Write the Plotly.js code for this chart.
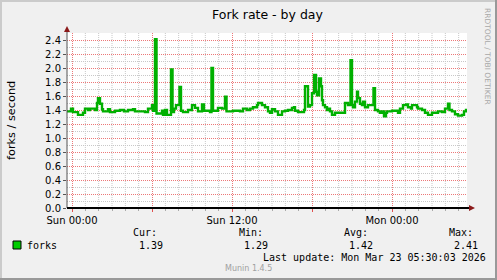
<!DOCTYPE html>
<html>
<head>
<meta charset="utf-8">
<script src="https://cdn.plot.ly/plotly-3.0.1.min.js"></script>
<style>
html,body{margin:0;padding:0;background:#f0f0f0;}
#chart{width:497px;height:280px;}
</style>
</head>
<body>
<div id="chart"></div>
<script>
// ---- data (hours after Sun 00:00, forks per second) ----
const hours = [-0.375,-0.075,0.075,0.45,0.825,0.975,1.2,1.35,1.725,1.875,1.95,2.1,2.25,2.325,2.7,2.85,3.225,3.6,3.9,4.2,4.575,4.725,5.475,5.7,6.0,6.075,6.225,6.34,6.75,6.825,6.975,7.125,7.425,7.54,7.65,7.8,8.06,8.175,8.325,8.7,9.0,9.225,9.45,9.75,9.9,10.35,10.46,10.575,10.95,11.25,11.475,11.59,12.075,12.6,12.825,13.125,13.35,13.575,13.875,13.95,14.25,14.475,14.7,14.85,15.0,15.225,15.45,15.75,15.975,16.2,16.5,16.65,16.725,16.95,17.4,17.475,17.7,17.85,18.0,18.15,18.3,18.375,18.525,18.675,18.75,18.825,18.975,19.125,19.2,19.35,19.5,19.725,20.475,20.7,20.89,21.0,21.075,21.225,21.375,21.45,21.6,21.75,21.825,21.975,22.2,22.61,22.725,22.95,23.1,23.25,23.4,23.55,23.625,24.0,24.45,24.6,24.825,25.05,25.2,25.425,25.5,25.875,25.95,26.25,26.475,26.7,27.0,27.45,27.75,27.975,28.2,28.31,28.5,28.725,28.95,29.25,29.4,29.55,29.625];
const forks = [1.38,1.42,1.37,1.33,1.36,1.42,1.40,1.42,1.40,1.50,1.57,1.49,1.41,1.38,1.41,1.37,1.39,1.40,1.38,1.40,1.41,1.38,1.37,1.42,1.47,1.39,2.41,1.35,1.39,1.33,1.40,1.33,1.98,1.37,1.42,1.47,1.73,1.39,1.37,1.40,1.47,1.43,1.38,1.48,1.39,1.37,2.00,1.39,1.43,1.42,1.59,1.38,1.39,1.38,1.42,1.40,1.42,1.44,1.47,1.50,1.47,1.44,1.38,1.36,1.41,1.38,1.33,1.38,1.39,1.40,1.43,1.44,1.39,1.37,1.40,1.74,1.45,1.47,1.64,1.90,1.66,1.61,1.85,1.74,1.54,1.47,1.44,1.40,1.42,1.38,1.33,1.36,1.50,1.47,2.11,1.47,1.44,1.52,1.66,1.57,1.49,1.47,1.52,1.44,1.47,1.71,1.40,1.38,1.36,1.38,1.31,1.36,1.38,1.39,1.36,1.42,1.47,1.48,1.44,1.42,1.47,1.44,1.42,1.40,1.36,1.33,1.36,1.38,1.37,1.42,1.49,1.40,1.38,1.34,1.32,1.33,1.38,1.40,1.39];
const xTickVals = [0, 6, 12, 18, 24];
const xTickText = ["Sun 00:00", "", "Sun 12:00", "", "Mon 00:00"];
const yTickVals = [0,0.2,0.4,0.6,0.8,1.0,1.2,1.4,1.6,1.8,2.0,2.2,2.4];
const yTickText = ["0.0","0.2","0.4","0.6","0.8","1.0","1.2","1.4","1.6","1.8","2.0","2.2","2.4"];
const seriesName = "forks";
const statLabels = ["Cur:", "Min:", "Avg:", "Max:"];
const statValues = ["1.39", "1.29", "1.42", "2.41"];
const lastUpdate = "Last update: Mon Mar 23 05:30:03 2026";

// ---- layout helpers (pixel -> paper) ----
const W = 497, H = 280, L = 67, T = 33, PW = 400, PH = 175;
const px = x => (x - L) / PW;
const py = y => (T + PH - y) / PH;

const green = "#00cc00";
const lineGreen = "#00b000";
const sans = "DejaVu Sans";
const mono = "DejaVu Sans Mono";

function rect(x0, y0, x1, y1, color, line) {
  return {type: "rect", xref: "paper", yref: "paper", x0: px(x0), x1: px(x1), y0: py(y1), y1: py(y0),
          fillcolor: color, line: line || {width: 0}, layer: "above"};
}
function seg(x0, y0, x1, y1, color, w) {
  return {type: "line", xref: "paper", yref: "paper", x0: px(x0), x1: px(x1), y0: py(y0), y1: py(y1),
          line: {color: color, width: w}, layer: "above"};
}
function tri(pts, color) {
  const p = pts.map((q, i) => (i ? "L" : "M") + px(q[0]) + "," + py(q[1])).join(" ") + " Z";
  return {type: "path", xref: "paper", yref: "paper", path: p, fillcolor: color, line: {width: 0}, layer: "above"};
}
function txt(x, y, text, opts) {
  return Object.assign({xref: "paper", yref: "paper", x: px(x), y: py(y), text: text, showarrow: false,
    xanchor: "left", yanchor: "middle", borderpad: 0,
    font: {family: mono, size: 10, color: "#000"}}, opts || {});
}

const shapes = [
  // frame
  rect(0, 0, 497, 2, "#cbcbcb"),
  rect(0, 0, 2, 280, "#cbcbcb"),
  rect(495, 0, 497, 280, "#999999"),
  rect(0, 278, 497, 280, "#999999"),
  // axes
  seg(67, 208, 67, 30, "#555555", 1),
  seg(67, 208, 470, 208, "#000000", 2),
  tri([[64, 32], [70, 32], [67, 26]], "#8b1a1a"),
  tri([[469, 205], [469, 211], [475, 208]], "#8b1a1a"),
  // legend swatch
  rect(13, 241, 21, 249, green, {color: "#000", width: 1})
];

const annotations = [
  txt(267, 14, "Fork rate - by day", {xanchor: "center", font: {family: sans, size: 12.5, color: "#000"}}),
  txt(11, 120, "forks / second", {xanchor: "center", textangle: -90, font: {family: sans, size: 11.3, color: "#000"}}),
  txt(488, 56, "RRDTOOL / TOBI OETIKER", {xanchor: "center", textangle: 90, font: {family: sans, size: 7.5, color: "#a8a8a8"}}),
  txt(26, 245, seriesName),
  txt(132, 232, statLabels[0]), txt(238, 232, statLabels[1]), txt(343, 232, statLabels[2]), txt(448, 232, statLabels[3]),
  txt(138, 245, statValues[0]), txt(243, 245, statValues[1]), txt(348, 245, statValues[2]), txt(453, 245, statValues[3]),
  txt(262, 257, lastUpdate),
  txt(248.5, 268.5, "Munin 1.4.5", {xanchor: "center", font: {family: sans, size: 8, color: "#a0a0a0"}})
];

const trace = {
  x: hours, y: forks, type: "scatter", mode: "lines", name: seriesName,
  line: {color: lineGreen, width: 2.4, shape: "hv"}, hoverinfo: "skip"
};

const layout = {
  width: W, height: H,
  margin: {l: L, r: W - L - PW, t: T, b: H - T - PH, pad: 0},
  paper_bgcolor: "#f0f0f0", plot_bgcolor: "#ffffff",
  showlegend: false,
  xaxis: {
    range: [-0.375, 29.625], tickmode: "array", tickvals: xTickVals, ticktext: xTickText,
    showgrid: true, gridcolor: "#ec7878", griddash: "1px,1px", gridwidth: 1,
    ticks: "outside", ticklen: 3, tickcolor: "#e05050", zeroline: false, showline: false,
    tickfont: {family: sans, size: 10, color: "#000"},
    minor: {tickmode: "linear", tick0: 0, dtick: 1, showgrid: false, ticks: "outside", ticklen: 2, tickcolor: "#aaaaaa"},
    fixedrange: true
  },
  yaxis: {
    range: [0, 2.5], tickmode: "array", tickvals: yTickVals, ticktext: yTickText,
    showgrid: true, gridcolor: "#ec7878", griddash: "1px,1px", gridwidth: 1,
    ticks: "outside", ticklen: 3, tickcolor: "#555555", zeroline: false, showline: false,
    tickfont: {family: sans, size: 10, color: "#000"},
    minor: {tickmode: "linear", tick0: 0, dtick: 0.1, showgrid: true, gridcolor: "#c8c8c8", griddash: "1px,1px", gridwidth: 1},
    fixedrange: true
  },
  shapes: shapes,
  annotations: annotations
};

// hourly minor vertical grid (skipping the 6-hour major lines)
for (let h = 0; h <= 29; h++) {
  if (h % 6 === 0) continue;
  layout.shapes.unshift({type: "line", xref: "x", yref: "paper", x0: h, x1: h, y0: 0, y1: 1,
    line: {color: "#c8c8c8", width: 1, dash: "1px,1px"}, layer: "below"});
}

Plotly.newPlot("chart", [trace], layout, {displayModeBar: false, staticPlot: true});
</script>
</body>
</html>
